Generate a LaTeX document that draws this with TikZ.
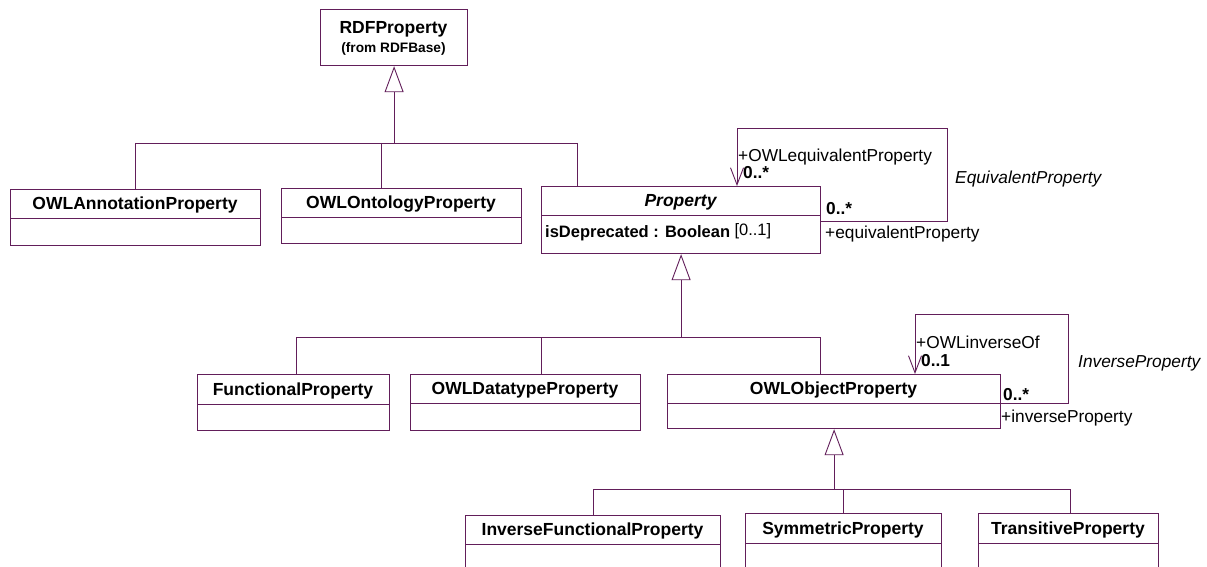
\documentclass[tikz,border=0pt]{standalone}
\usepackage{fontspec}
\setmainfont{Liberation Sans}
\usetikzlibrary{arrows.meta,calc}
\definecolor{rose}{RGB}{98,30,90}
\tikzset{
  cls/.style={draw=rose, line width=1.2pt, fill=white, inner sep=0pt, anchor=north west},
  ttl/.style={font=\bfseries\fontsize{17.5}{19}\selectfont, anchor=base, inner sep=0pt},
  lbl/.style={font=\fontsize{17.3}{19}\selectfont, anchor=base west, inner sep=0pt},
  mult/.style={lbl, font=\bfseries\fontsize{17.3}{19}\selectfont},
  role/.style={lbl, font=\itshape\fontsize{17.3}{19}\selectfont},
  conn/.style={draw=rose, line width=0.9pt},
  gen/.style={conn, -{Triangle[open, length=26pt, width=19pt, fill=white]}},
  nav/.style={conn, -{Straight Barb[length=17pt, width=13pt]}},
}
\newcommand\umlcls[7]{%
  \node[cls, minimum width={(#4-#2)*1pt}, minimum height={(#6-#3)*1pt}] (#1) at (#2,#3) {};
  \draw[rose, line width=1pt] (#2,#5) -- (#4,#5);
  \node[ttl] (#1-t) at ({(#2+#4)/2},{(#3+#5)/2+6.2}) {#7};
}
\begin{document}
\begin{tikzpicture}[x=1pt,y=-1pt]
\useasboundingbox (0,0) rectangle (1207,567);
\clip (0,0) rectangle (1207,567);
\fill[white] (0,0) rectangle (1207,567);

% RDFProperty
\node[cls, minimum width=147pt, minimum height=56pt] (rdf) at (320,9) {};
\node[ttl] (rdf-t) at (393.5,34) {RDFProperty};
\node[ttl, font=\bfseries\fontsize{13.7}{15}\selectfont] (rdf-s) at (393.5,52.5) {(from RDFBase)};

% classes
\umlcls{annot}{10}{189}{260}{218}{245}{OWLAnnotationProperty}
\umlcls{onto}{281}{188}{521}{217}{243}{OWLOntologyProperty}
\umlcls{prop}{541}{186}{820}{215}{253}{\itshape Property}
\umlcls{func}{197}{374}{389}{404}{430}{FunctionalProperty}
\umlcls{dtype}{410}{374}{640}{403}{430}{OWLDatatypeProperty}
\umlcls{obj}{667}{374}{1000}{403}{428}{OWLObjectProperty}
\umlcls{ifp}{465}{515}{720}{544}{600}{InverseFunctionalProperty}
\umlcls{sym}{745}{513}{941}{543}{600}{SymmetricProperty}
\umlcls{trans}{978}{513}{1158}{543}{600}{TransitiveProperty}

% attribute
\node[lbl, font=\bfseries\fontsize{16.5}{18}\selectfont] (attr) at (545,237) {isDeprecated : Boolean};
\node[lbl, font=\fontsize{16.5}{18}\selectfont] (attrm) at ($(attr.base east)+(4,-2)$) {[0..1]};

% generalization tree 1
\coordinate (j0) at (rdf.south |- 0,143);
\coordinate (d1) at (annot.north |- 0,143);
\coordinate (d2) at (381,143);
\coordinate (d3) at (577,143);
\draw[conn] (d1) -- (d3);
\draw[conn] (d1) -- (annot.north);
\draw[conn] (d2) -- (d2 |- onto.north);
\draw[conn] (d3) -- (d3 |- prop.north);
\draw[gen] (j0) -- (rdf.south);

% generalization tree 2
\coordinate (j1) at (prop.south |- 0,337);
\coordinate (e1) at (296,337);
\coordinate (e2) at (541,337);
\coordinate (e3) at (820,337);
\draw[conn] (e1) -- (e3);
\draw[conn] (e1) -- (e1 |- func.north);
\draw[conn] (e2) -- (e2 |- dtype.north);
\draw[conn] (e3) -- (e3 |- obj.north);
\draw[gen] (j1) -- (prop.south);

% generalization tree 3
\coordinate (j2) at (obj.south |- 0,489);
\coordinate (f1) at (593,489);
\coordinate (f2) at (843,489);
\coordinate (f3) at (1070,489);
\draw[conn] (f1) -- (f3);
\draw[conn] (f1) -- (f1 |- ifp.north);
\draw[conn] (f2) -- (f2 |- sym.north);
\draw[conn] (f3) -- (f3 |- trans.north);
\draw[gen] (j2) -- (obj.south);

% EquivalentProperty self association
\coordinate (eqa) at (737,128);
\coordinate (eqb) at (947,221);
\draw[nav] (prop.east |- eqb) -- (eqb) |- (eqa) -- (eqa |- prop.north);
\node[lbl] (eq1) at (738,161) {+OWLequivalentProperty};
\node[mult] (eq2) at (743,178) {0..*};
\node[mult] (eq3) at (826,214) {0..*};
\node[lbl] (eq4) at (825,238) {+equivalentProperty};
\node[role] (eq5) at (955,183) {EquivalentProperty};

% InverseProperty self association
\coordinate (iva) at (915,314);
\coordinate (ivb) at (1068,403);
\draw[nav] (obj.east |- ivb) -- (ivb) |- (iva) -- (iva |- obj.north);
\node[lbl] (iv1) at (916,348) {+OWLinverseOf};
\node[mult] (iv2) at (921,366) {0..1};
\node[mult] (iv3) at (1003,400) {0..*};
\node[lbl] (iv4) at (1001,422) {+inverseProperty};
\node[role] (iv5) at (1078,367) {InverseProperty};
\end{tikzpicture}
\end{document}
